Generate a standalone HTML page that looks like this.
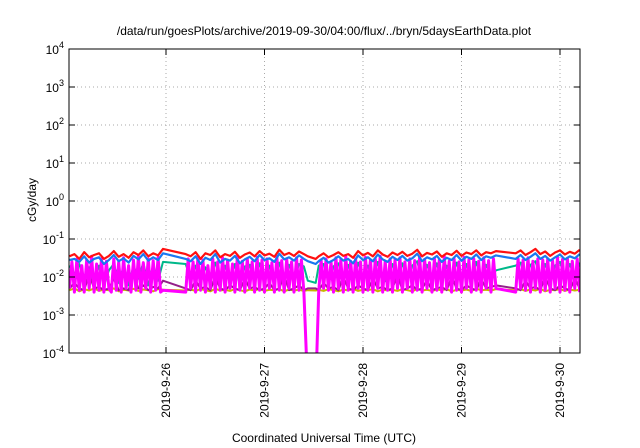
<!DOCTYPE html>
<html><head><meta charset="utf-8"><style>
html,body{margin:0;padding:0;background:#fff;width:640px;height:448px;overflow:hidden}
svg text{font-family:"Liberation Sans",sans-serif;fill:#000}
</style></head><body>
<svg id="chart" width="640" height="448" viewBox="0 0 640 448" xmlns="http://www.w3.org/2000/svg">
<text x="324" y="35" font-size="12" text-anchor="middle">/data/run/goesPlots/archive/2019-09-30/04:00/flux/../bryn/5daysEarthData.plot</text>
<text transform="translate(36,200) rotate(-90)" font-size="12" text-anchor="middle">cGy/day</text>
<text x="324" y="442" font-size="12" text-anchor="middle">Coordinated Universal Time (UTC)</text>
<defs><clipPath id="clip"><rect x="69" y="49" width="511" height="304"/></clipPath></defs>
<g id="grid"></g>
<g id="series" clip-path="url(#clip)"></g>
<g id="axes"></g>
</svg>
<script>
const yExps=[-4,-3,-2,-1,0,1,2,3,4];
const xTickDays=[1,2,3,4,5];
const xTickLabels=["2019-9-26","2019-9-27","2019-9-28","2019-9-29","2019-9-30"];
const times=[0.02,0.07,0.12,0.17,0.22,0.27,0.32,0.37,0.42,0.47,0.52,0.57,0.62,0.67,0.72,0.77,0.82,0.87,0.92,0.97,
1.2,1.25,1.3,1.35,1.4,1.45,1.5,1.55,1.6,1.65,1.7,1.75,1.8,1.85,1.9,1.95,2.0,2.05,2.1,2.15,2.2,2.25,2.3,2.35,2.4,2.44,
2.52,2.55,2.6,2.65,2.7,2.75,2.8,2.85,2.9,2.95,3.0,3.05,3.1,3.15,3.2,3.25,3.3,3.35,3.4,3.45,3.5,3.55,3.6,3.65,3.7,3.75,3.8,3.85,3.9,3.95,4.0,4.05,4.1,4.15,4.2,4.25,4.3,4.35,
4.55,4.6,4.65,4.7,4.75,4.8,4.85,4.9,4.95,5.0,5.05,5.1,5.15,5.2];
const redVals=[.035,.04,.03,.045,.033,.038,.042,.03,.036,.048,.034,.04,.032,.045,.038,.05,.035,.042,.037,.055,
.04,.035,.045,.03,.042,.038,.05,.033,.04,.036,.046,.032,.039,.044,.035,.048,.037,.041,.034,.052,.038,.043,.036,.047,.04,.035,
.03,.035,.042,.033,.038,.045,.036,.04,.032,.048,.037,.043,.035,.05,.039,.034,.044,.038,.046,.036,.041,.052,.035,.043,.039,.047,.034,.042,.038,.049,.036,.044,.04,.05,.037,.045,.042,.048,
.042,.05,.038,.045,.055,.04,.047,.036,.044,.05,.039,.046,.041,.052];
const blueVals=[.028,.03,.025,.035,.024,.03,.033,.022,.028,.038,.026,.031,.024,.036,.029,.04,.027,.033,.028,.042,
.03,.026,.035,.022,.032,.028,.04,.024,.03,.027,.036,.023,.029,.034,.026,.038,.028,.031,.025,.041,.029,.033,.027,.037,.03,.026,
.022,.026,.032,.024,.028,.035,.027,.03,.023,.037,.028,.033,.026,.039,.029,.025,.034,.028,.036,.027,.031,.041,.026,.033,.029,.036,.025,.032,.028,.038,.027,.034,.03,.039,.028,.035,.032,.037,
.03,.038,.028,.034,.042,.03,.036,.027,.033,.039,.029,.035,.031,.04];
const greenVals=[.02,.012,.022,.008,.018,.007,.02,.006,.015,.022,.007,.019,.006,.02,.009,.024,.006,.021,.008,.025,
.022,.009,.02,.007,.018,.01,.024,.008,.02,.007,.022,.006,.019,.021,.008,.023,.009,.02,.007,.024,.009,.021,.008,.022,.019,.008,
.007,.02,.022,.008,.019,.023,.009,.021,.007,.024,.01,.02,.008,.025,.009,.007,.022,.01,.023,.008,.02,.026,.008,.021,.009,.023,.007,.02,.01,.024,.008,.022,.009,.025,.008,.021,.01,.015,
.02,.024,.009,.021,.026,.01,.022,.008,.02,.025,.009,.022,.01,.024];
const purpleVals=[.005,.007,.005,.0045,.012,.005,.0055,.0045,.005,.009,.0045,.005,.0045,.011,.005,.006,.0045,.0055,.005,.008,
.005,.0045,.008,.005,.0055,.0045,.01,.005,.0045,.006,.005,.0045,.009,.005,.0055,.0045,.005,.007,.0045,.005,.011,.0045,.005,.006,.0045,.005,
.005,.0045,.007,.005,.0055,.0045,.01,.005,.0045,.006,.005,.0045,.009,.005,.0055,.0045,.005,.012,.0045,.005,.006,.0045,.005,.008,.0045,.005,.0055,.0045,.01,.005,.0045,.006,.005,.0045,.009,.005,.0055,.006,
.005,.0045,.008,.005,.0055,.0045,.01,.005,.0045,.006,.005,.0045,.009,.005];
const yellowVals=[.0045,.005,.0042,.0048,.0044,.005,.0043,.0047,.0045,.005,.0042,.0046,.0044,.0049,.0043,.0047,.0045,.0042,.0048,.0046,
.0044,.0047,.0043,.0048,.0045,.0042,.0049,.0044,.0046,.0043,.0048,.0045,.0042,.0047,.0044,.0049,.0043,.0046,.0045,.0048,.0042,.0047,.0044,.0046,.0043,.0045,
.0044,.0046,.0043,.0048,.0045,.0042,.0047,.0044,.0049,.0043,.0046,.0045,.0048,.0042,.0047,.0044,.0046,.0043,.0048,.0045,.0042,.0049,.0044,.0046,.0043,.0047,.0045,.0048,.0042,.0046,.0044,.0047,.0043,.0049,.0045,.0046,.0044,.0048,
.0045,.0048,.0043,.0047,.0044,.0049,.0042,.0046,.0045,.0048,.0043,.0047,.0044,.0046];
const magentaTimes=[0.02,0.045,0.07,0.095,0.12,0.145,0.17,0.195,0.22,0.245,0.27,0.295,0.32,0.345,0.37,0.395,0.42,0.445,0.47,0.495,0.52,0.545,0.57,0.595,0.62,0.645,0.67,0.695,0.72,0.745,0.77,0.795,0.82,0.845,0.87,0.895,0.92,0.945,0.97,
1.2,1.225,1.25,1.275,1.3,1.325,1.35,1.375,1.4,1.425,1.45,1.475,1.5,1.525,1.55,1.575,1.6,1.625,1.65,1.675,1.7,1.725,1.75,1.775,1.8,1.825,1.85,1.875,1.9,1.925,1.95,1.975,2.0,2.025,2.05,2.075,2.1,2.125,2.15,2.175,2.2,2.225,2.25,2.275,2.3,2.325,2.35,2.375,2.4,2.44,
2.52,2.55,2.575,2.6,2.625,2.65,2.675,2.7,2.725,2.75,2.775,2.8,2.825,2.85,2.875,2.9,2.925,2.95,2.975,3.0,3.025,3.05,3.075,3.1,3.125,3.15,3.175,3.2,3.225,3.25,3.275,3.3,3.325,3.35,3.375,3.4,3.425,3.45,3.475,3.5,3.525,3.55,3.575,3.6,3.625,3.65,3.675,3.7,3.725,3.75,3.775,3.8,3.825,3.85,3.875,3.9,3.925,3.95,3.975,4.0,4.025,4.05,4.075,4.1,4.125,4.15,4.175,4.2,4.225,4.25,4.275,4.3,4.325,4.35,
4.55,4.575,4.6,4.625,4.65,4.675,4.7,4.725,4.75,4.775,4.8,4.825,4.85,4.875,4.9,4.925,4.95,4.975,5.0,5.025,5.05,5.075,5.1,5.125,5.15,5.175,5.2];
const magentaVals=[.005,.025,.004,.03,.0045,.02,.004,.028,.005,.035,.004,.022,.0045,.03,.004,.026,.005,.004,.03,.0045,.025,.004,.032,.005,.02,.004,.028,.0045,.035,.004,.024,.005,.03,.004,.027,.0045,.033,.004,.0045,
.004,.03,.005,.025,.004,.035,.0045,.028,.004,.02,.005,.03,.004,.025,.0045,.032,.004,.028,.005,.022,.004,.035,.0045,.026,.004,.03,.005,.025,.004,.033,.0045,.028,.004,.03,.005,.024,.004,.035,.0045,.027,.004,.03,.005,.025,.004,.032,.0045,.028,.004,.00001,
.00001,.004,.028,.005,.03,.0045,.025,.004,.032,.005,.028,.004,.035,.0045,.026,.004,.03,.005,.025,.004,.033,.0045,.028,.004,.03,.005,.035,.004,.026,.0045,.03,.004,.028,.005,.032,.004,.025,.005,.03,.004,.027,.0045,.034,.004,.029,.005,.024,.004,.031,.0045,.028,.004,.035,.005,.026,.004,.03,.0045,.025,.004,.033,.005,.028,.004,.03,.0045,.026,.004,.032,.005,.027,.004,.03,.005,
.004,.03,.005,.028,.0045,.032,.004,.026,.005,.03,.004,.028,.0045,.03,.004,.027,.005,.033,.004,.029,.0045,.031,.004,.026,.005,.03,.004];

const L=69,R=580,T=49,B=353;
const X0=67.5,PXD=98.5;
function xs(d){return X0+d*PXD;}
function ys(v){return T+(4-Math.log10(v))*(B-T)/8;}
const NS="http://www.w3.org/2000/svg";
function mk(tag,attrs,parent){const e=document.createElementNS(NS,tag);for(const k in attrs)e.setAttribute(k,attrs[k]);parent.appendChild(e);return e;}
const grid=document.getElementById('grid'),axes=document.getElementById('axes'),ser=document.getElementById('series');

yExps.forEach(function(ex){
  const y=ys(Math.pow(10,ex));
  if(ex>-4&&ex<4){const g=mk('line',{x1:L,x2:R,y1:y,y2:y,stroke:'#aaa','stroke-width':1,'stroke-dasharray':'1,3'},grid);
  
  }
  const t1=mk('line',{x1:L,x2:L+6,y1:y,y2:y,stroke:'#000'},axes);
  
  
  const t2=mk('line',{x1:R-6,x2:R,y1:y,y2:y,stroke:'#000'},axes);
  
  
  const tx=mk('text',{x:L-5,y:y+5,'font-size':12,'text-anchor':'end'},axes);
  
  
  tx.textContent='10';
  const sp=mk('tspan',{dy:-6,'font-size':9},tx);sp.textContent=String(ex);
});
xTickDays.forEach(function(d,i){
  const x=xs(d);
  const g=mk('line',{x1:x,x2:x,y1:T,y2:B,stroke:'#aaa','stroke-width':1,'stroke-dasharray':'1,3'},grid);
  
  
  const t1=mk('line',{x1:x,x2:x,y1:B-6,y2:B,stroke:'#000'},axes);
  
  
  const t2=mk('line',{x1:x,x2:x,y1:T,y2:T+6,stroke:'#000'},axes);
  
  
  const tx=mk('text',{transform:'translate('+(x+4)+','+(B+10)+') rotate(-90)','font-size':12,'text-anchor':'end'},axes);
  
  
  tx.textContent=xTickLabels[i];
});
const frame=mk('rect',{x:L,y:T,width:R-L,height:B-T,fill:'none',stroke:'#000','stroke-width':1},axes);



const seriesList=[
 {name:'series-yellow',t:times,vals:yellowVals,color:'#c8b400',w:2},
 {name:'series-purple',t:times,vals:purpleVals,color:'#94208a',w:2},
 {name:'series-green',t:times,vals:greenVals,color:'#00b88a',w:2},
 {name:'series-magenta',t:magentaTimes,vals:magentaVals,color:'#ff00ff',w:3},
 {name:'series-red',t:times,vals:redVals,color:'#ff1010',w:2.2},
 {name:'series-blue',t:times,vals:blueVals,color:'#1a78f0',w:2.2}
];
seriesList.forEach(function(s){
  const n=Math.min(s.t.length,s.vals.length);
  const pts=[];
  for(let i=0;i<n;i++)pts.push(xs(s.t[i]).toFixed(1)+','+ys(s.vals[i]).toFixed(1));
  const p=mk('polyline',{points:pts.join(' '),fill:'none',stroke:s.color,'stroke-width':s.w,'stroke-linejoin':'round'},ser);
  
  
});
</script>
</body></html>
